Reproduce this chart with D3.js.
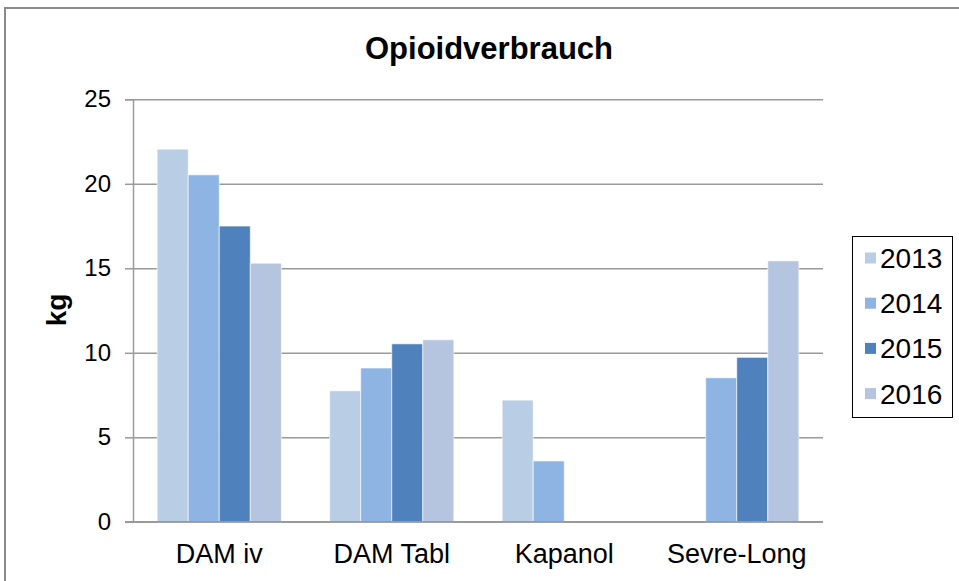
<!DOCTYPE html>
<html>
<head>
<meta charset="utf-8">
<script src="https://cdn.jsdelivr.net/npm/d3@7"></script>
<style>
  html, body { margin: 0; padding: 0; background: #fff; }
  svg { display: block; font-family: 'Liberation Sans', Arial, sans-serif; }
</style>
</head>
<body>
<div id="chart"></div>
<script>
const categories = ['DAM iv', 'DAM Tabl', 'Kapanol', 'Sevre-Long'];
const years = ['2013', '2014', '2015', '2016'];
const values2013 = [22.05, 7.75, 7.2, null];
const values2014 = [20.53, 9.1, 3.6, 8.52];
const values2015 = [17.5, 10.53, null, 9.73];
const values2016 = [15.3, 10.77, null, 15.44];
const yTicks = [0, 5, 10, 15, 20, 25];

const drawChart = (element) => {
  const colors = ['#B9CDE5', '#8EB4E3', '#4F81BD', '#B5C4DF'];
  const width = 959;
  const height = 581;
  const plot = { left: 133, right: 823, top: 99.3, bottom: 521.8 };

  const series = [values2013, values2014, values2015, values2016];
  // table: one row per category
  const rows = categories.map((c, i) => ({
    category: c,
    bars: years.map((y, j) => ({ year: y, value: series[j][i] }))
  }));

  d3.select(element).select('svg').remove();
  const svg = d3
    .select(element)
    .append('svg')
    .attr('width', width)
    .attr('height', height);

  // chart frame
  svg.append('path')
    .attr('d', `M5,${height} L5,8 L${width},8`)
    .attr('fill', 'none')
    .attr('stroke', '#8a8a8a')
    .attr('stroke-width', 2);

  const x0 = d3.scaleBand()
    .domain(categories)
    .range([plot.left, plot.right])
    .paddingInner(0.28)
    .paddingOuter(0.14);

  const x1 = d3.scaleBand()
    .domain(years)
    .range([0, x0.bandwidth()]);

  const y = d3.scaleLinear()
    .domain([0, 25])
    .range([plot.bottom, plot.top]);

  // gridlines + y axis
  const yAxis = svg.append('g')
    .attr('transform', `translate(${plot.left},0)`)
    .call(d3.axisLeft(y).tickValues(yTicks).tickSize(8).tickPadding(14));
  yAxis.select('.domain').attr('stroke', '#9a9a9a').attr('stroke-width', 1.5);
  yAxis.selectAll('.tick line').attr('stroke', '#9a9a9a').attr('stroke-width', 1.5);
  yAxis.selectAll('.tick text')
    .style('font-size', '24px')
    .attr('fill', '#000');
  yAxis.selectAll('.tick')
    .append('line')
    .attr('x1', 0)
    .attr('x2', plot.right - plot.left)
    .attr('stroke', '#9a9a9a')
    .attr('stroke-width', 1.5);

  // bars
  const groups = svg.selectAll('g.cat')
    .data(rows)
    .enter()
    .append('g')
    .attr('class', 'cat')
    .attr('transform', (d) => `translate(${x0(d.category)},0)`);

  groups.selectAll('rect')
    .data((d) => d.bars.filter((b) => b.value != null))
    .enter()
    .append('rect')
    .attr('x', (d) => x1(d.year))
    .attr('y', (d) => y(d.value))
    .attr('width', x1.bandwidth())
    .attr('height', (d) => y(0) - y(d.value))
    .attr('fill', (d) => colors[years.indexOf(d.year)])
    .attr('stroke', 'rgba(255,255,255,0.6)')
    .attr('stroke-width', 1);

  // baseline redrawn over bars
  svg.append('line')
    .attr('x1', plot.left - 8)
    .attr('x2', plot.right)
    .attr('y1', y(0))
    .attr('y2', y(0))
    .attr('stroke', '#9a9a9a')
    .attr('stroke-width', 1.5);

  // x labels
  svg.append('g')
    .selectAll('text')
    .data(categories)
    .enter()
    .append('text')
    .attr('x', (d) => x0(d) + x0.bandwidth() / 2)
    .attr('y', 563)
    .attr('text-anchor', 'middle')
    .style('font-size', '27px')
    .text((d) => d);

  // title
  svg.append('text')
    .attr('x', 489)
    .attr('y', 59)
    .attr('text-anchor', 'middle')
    .style('font-size', '31px')
    .style('font-weight', 'bold')
    .text('Opioidverbrauch');

  // y axis title
  svg.append('text')
    .attr('transform', 'translate(66,310) rotate(-90)')
    .attr('text-anchor', 'middle')
    .style('font-size', '28px')
    .style('font-weight', 'bold')
    .text('kg');

  // legend
  const legend = svg.append('g');
  legend.append('rect')
    .attr('x', 852.5)
    .attr('y', 236.5)
    .attr('width', 100)
    .attr('height', 181)
    .attr('fill', '#fff')
    .attr('stroke', '#000')
    .attr('stroke-width', 1);

  const items = legend.selectAll('g.item')
    .data(years)
    .enter()
    .append('g')
    .attr('class', 'item')
    .attr('transform', (d, i) => `translate(865,${258 + i * 45.2})`);
  items.append('rect')
    .attr('x', 0)
    .attr('y', -5.5)
    .attr('width', 11)
    .attr('height', 11)
    .attr('fill', (d, i) => colors[i]);
  items.append('text')
    .attr('x', 15)
    .attr('y', 10)
    .style('font-size', '28px')
    .text((d) => d);
};

drawChart(document.getElementById('chart'));
</script>
</body>
</html>
